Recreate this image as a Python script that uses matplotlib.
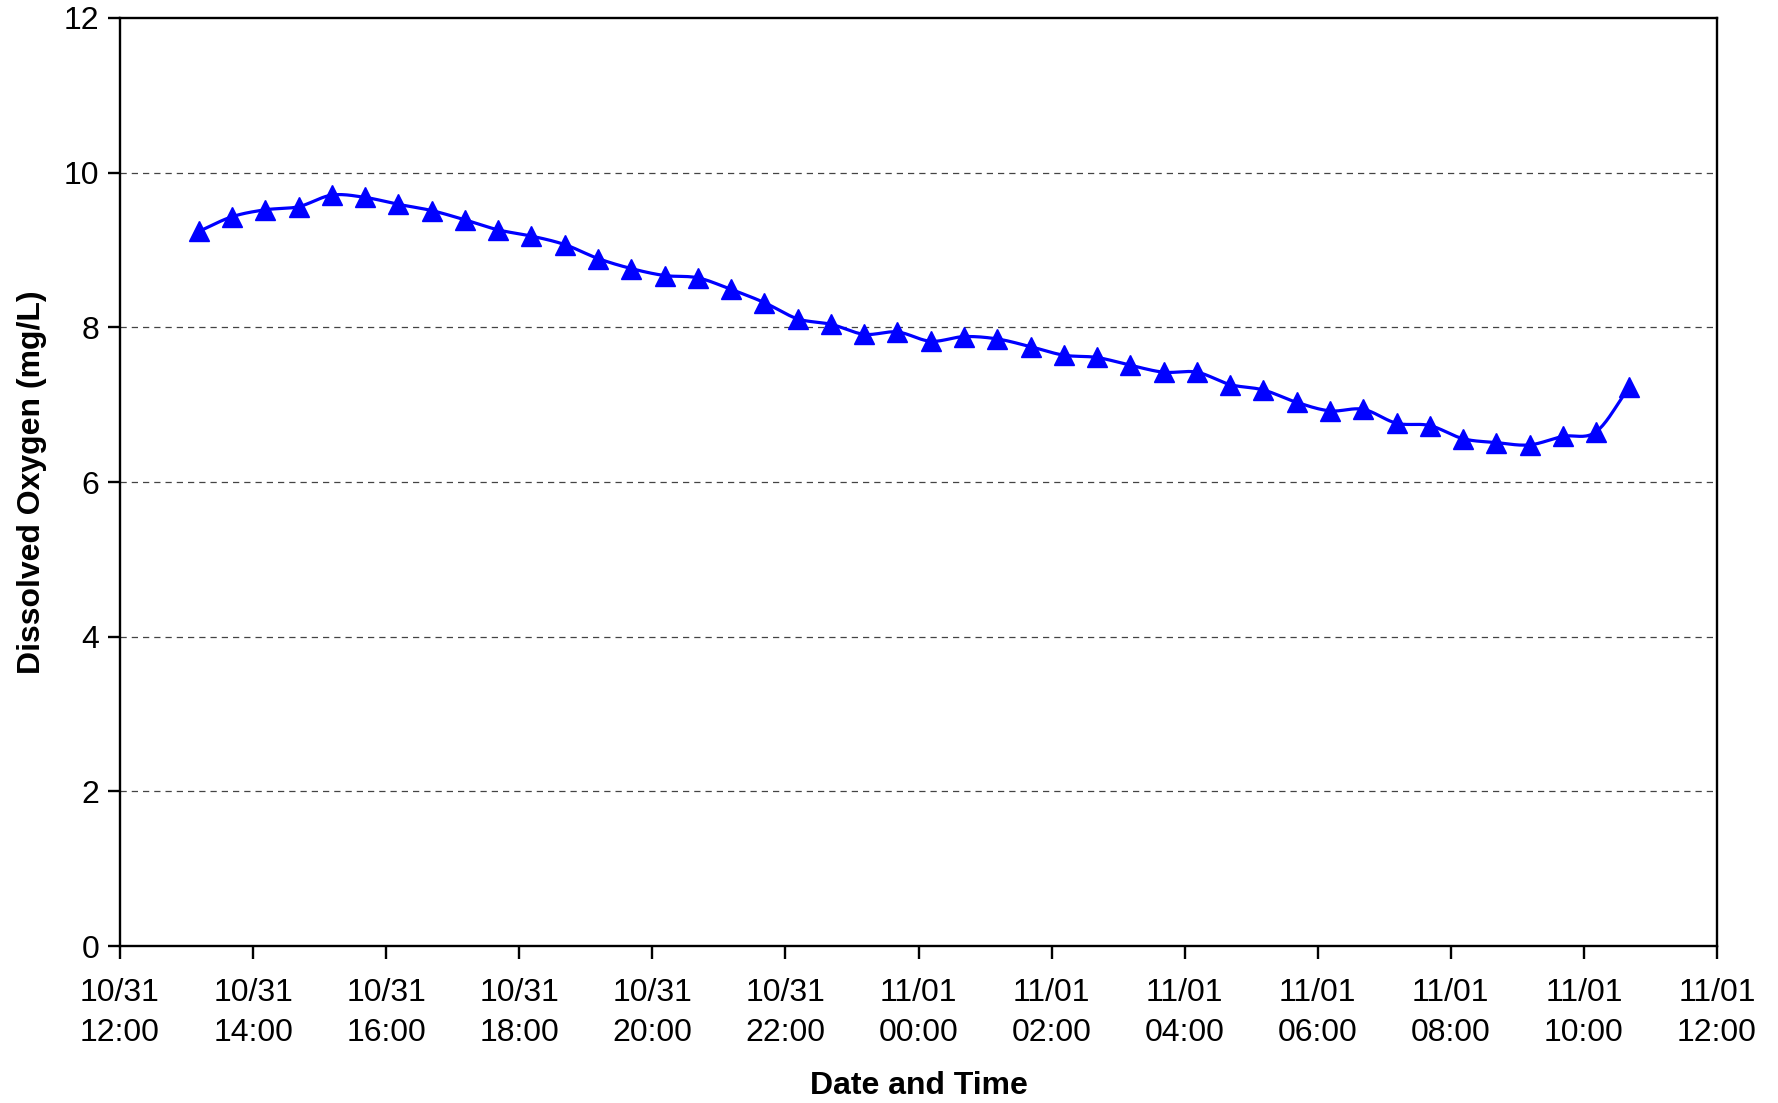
import numpy as np
import pandas as pd
import matplotlib
matplotlib.use('Agg')
import matplotlib.pyplot as plt
import matplotlib.dates as mdates

plt.rcParams['font.family'] = ['Liberation Sans', 'DejaVu Sans']

# Measurement times (every half hour)
times = [
    '2000-10-31 13:11', '2000-10-31 13:41', '2000-10-31 14:11', '2000-10-31 14:41',
    '2000-10-31 15:11', '2000-10-31 15:41', '2000-10-31 16:11', '2000-10-31 16:41',
    '2000-10-31 17:11', '2000-10-31 17:41', '2000-10-31 18:11', '2000-10-31 18:41',
    '2000-10-31 19:11', '2000-10-31 19:41', '2000-10-31 20:11', '2000-10-31 20:41',
    '2000-10-31 21:11', '2000-10-31 21:41', '2000-10-31 22:11', '2000-10-31 22:41',
    '2000-10-31 23:11', '2000-10-31 23:41', '2000-11-01 00:11', '2000-11-01 00:41',
    '2000-11-01 01:11', '2000-11-01 01:41', '2000-11-01 02:11', '2000-11-01 02:41',
    '2000-11-01 03:11', '2000-11-01 03:41', '2000-11-01 04:11', '2000-11-01 04:41',
    '2000-11-01 05:11', '2000-11-01 05:41', '2000-11-01 06:11', '2000-11-01 06:41',
    '2000-11-01 07:11', '2000-11-01 07:41', '2000-11-01 08:11', '2000-11-01 08:41',
    '2000-11-01 09:11', '2000-11-01 09:41', '2000-11-01 10:11', '2000-11-01 10:41',
]
do_values = [
    9.24, 9.43, 9.52, 9.56, 9.71, 9.68, 9.59, 9.51, 9.39, 9.26,
    9.18, 9.07, 8.89, 8.76, 8.67, 8.64, 8.49, 8.32, 8.11, 8.04,
    7.91, 7.94, 7.82, 7.88, 7.85, 7.75, 7.64, 7.61, 7.51, 7.42,
    7.42, 7.26, 7.19, 7.03, 6.92, 6.94, 6.76, 6.73, 6.56, 6.51,
    6.48, 6.59, 6.65, 7.23,
]


def smooth(x, y, n=20):
    # Catmull-Rom style smoothing like Excel's smoothed line
    x = np.asarray(x, dtype=float)
    y = np.asarray(y, dtype=float)
    px = np.concatenate([[2 * x[0] - x[1]], x, [2 * x[-1] - x[-2]]])
    py = np.concatenate([[2 * y[0] - y[1]], y, [2 * y[-1] - y[-2]]])
    xs, ys = [], []
    t = np.linspace(0, 1, n, endpoint=False)
    for i in range(1, len(px) - 2):
        p0, p1, p2, p3 = px[i - 1], px[i], px[i + 1], px[i + 2]
        q0, q1, q2, q3 = py[i - 1], py[i], py[i + 1], py[i + 2]
        for a, b, c, d, out in ((p0, p1, p2, p3, xs), (q0, q1, q2, q3, ys)):
            out.extend(0.5 * ((2 * b) + (-a + c) * t + (2 * a - 5 * b + 4 * c - d) * t ** 2
                              + (-a + 3 * b - 3 * c + d) * t ** 3))
    xs.append(x[-1])
    ys.append(y[-1])
    return np.array(xs), np.array(ys)


t = mdates.date2num(pd.to_datetime(times).to_pydatetime())
sx, sy = smooth(t, do_values)

fig = plt.figure(figsize=(17.78, 11.03), dpi=100)
ax = fig.add_axes([0.0675, 0.1423, 0.8982, 0.8414])

ax.plot(sx, sy, color='#0000FF', linewidth=2.3, zorder=3)
ax.plot(t, do_values, linestyle='none', marker='^', markersize=14,
        color='#0000FF', zorder=4)

ax.set_ylim(0, 12)
ax.set_yticks(np.arange(0, 13, 2))
start = mdates.date2num(pd.Timestamp('2000-10-31 12:00').to_pydatetime())
end = mdates.date2num(pd.Timestamp('2000-11-01 12:00').to_pydatetime())
ax.set_xlim(start, end)
ax.xaxis.set_major_locator(mdates.HourLocator(byhour=range(0, 24, 2)))
ax.xaxis.set_major_formatter(mdates.DateFormatter('%m/%d\n%H:%M'))

for yv in range(2, 12, 2):
    ax.axhline(yv, color='#444444', linestyle=(0, (5, 4)), linewidth=0.9, zorder=1)

for s in ax.spines.values():
    s.set_linewidth(1.7)
ax.tick_params(axis='both', direction='out', width=1.7, labelsize=23)
ax.tick_params(axis='x', length=9, pad=14)
ax.tick_params(axis='y', length=9, pad=6)
for lab in ax.get_xticklabels():
    lab.set_horizontalalignment('center')
    lab.set_linespacing(1.42)

ax.set_xlabel('Date and Time', fontsize=23, fontweight='bold', labelpad=17)
ax.set_ylabel('Dissolved Oxygen (mg/L)', fontsize=23, fontweight='bold', labelpad=12)

fig.savefig('out.png', dpi=100)
